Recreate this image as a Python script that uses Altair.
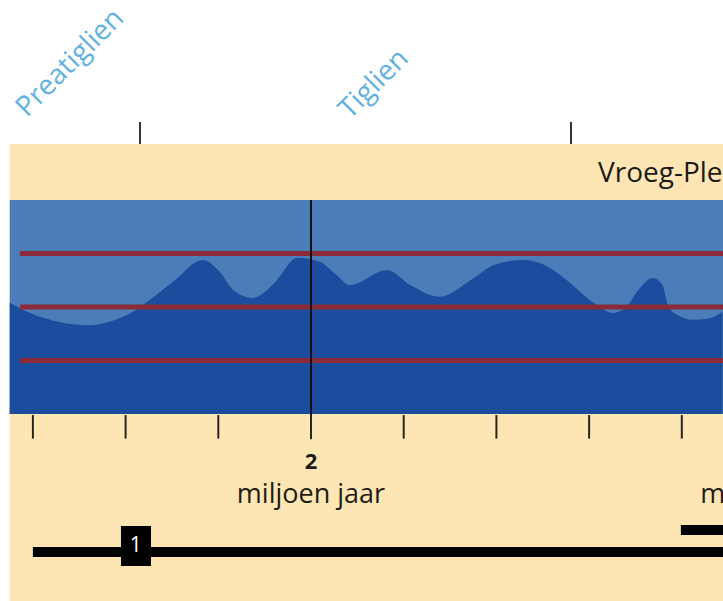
import altair as alt
import pandas as pd

# ---- data (x = age in million years, y = climate index; band spans 0..4) ----
curve_age = [2.325, 2.303, 2.271, 2.238, 2.211, 2.192, 2.174, 2.147, 2.117, 2.098,
             2.084, 2.063, 2.050, 2.037, 2.015, 1.990, 1.974, 1.958, 1.918, 1.893,
             1.861, 1.828, 1.802, 1.771, 1.742, 1.724, 1.696, 1.674, 1.661, 1.645,
             1.631, 1.621, 1.615, 1.605, 1.588, 1.570, 1.556]
curve_val = [2.08, 1.89, 1.72, 1.66, 1.76, 1.91, 2.13, 2.50, 2.88, 2.65,
             2.32, 2.17, 2.28, 2.50, 2.92, 2.84, 2.62, 2.41, 2.69, 2.41,
             2.19, 2.50, 2.79, 2.88, 2.73, 2.50, 2.09, 1.89, 1.98, 2.36,
             2.54, 2.41, 2.04, 1.85, 1.76, 1.79, 1.91]

ref_levels = [1, 2, 3]
tick_ages = [2.3, 2.2, 2.1, 2.0, 1.9, 1.8, 1.7, 1.6]
stage_bounds = [2.1845, 1.7195]
stage_names = ["Preatiglien", "Tiglien"]
stage_label_age = [2.3064, 1.9579]
stage_label_y = [5.533, 5.495]
axis_labels = ["2"]
unit_label = "miljoen jaar"
unit_label_ages = [2.0, 1.5]
period_name = "Vroeg-Pleistoceen"
period_label_age = 1.6904
marker_label = "1"

# ---- scales ----
X0, X1 = 2.33549, 1.55556
Y0, Y1 = -3.4953, 7.7383
band_lo, band_hi = 0.0, 4.0
left_age = 2.325

xs = alt.Scale(domain=[X0, X1], nice=False, zero=False)
ys = alt.Scale(domain=[Y0, Y1], nice=False, zero=False)

BEIGE = "#fde6b3"
LIGHT = "#4b7db8"
DARK = "#1b4c9d"
RED = "#8c2a38"
LBLUE = "#62b2df"
INK = "#231c16"
FONT = "Open Sans"

def X(f="x"):
    return alt.X(f"{f}:Q", scale=xs, axis=None)

def Y(f="y"):
    return alt.Y(f"{f}:Q", scale=ys, axis=None)

bg_df = pd.DataFrame({"x": [left_age], "x2": [X1], "y": [Y0], "y2": [5.047]})
beige = alt.Chart(bg_df).mark_rect(color=BEIGE).encode(x=X(), x2="x2:Q", y=Y(), y2="y2:Q")

band_df = pd.DataFrame({"x": [left_age], "x2": [X1], "y": [band_lo], "y2": [band_hi]})
band = alt.Chart(band_df).mark_rect(color=LIGHT).encode(x=X(), x2="x2:Q", y=Y(), y2="y2:Q")

curve_df = pd.DataFrame({"x": curve_age, "y": curve_val})
area = alt.Chart(curve_df).mark_area(color=DARK, interpolate="monotone").encode(
    x=X(), y=Y(), y2=alt.datum(band_lo))

red_df = pd.DataFrame({"x": [2.314] * 3, "x2": [X1] * 3, "y": ref_levels})
reds = alt.Chart(red_df).mark_rule(color=RED, strokeWidth=5).encode(
    x=X(), x2="x2:Q", y=Y())

vline_df = pd.DataFrame({"x": [2.0], "y": [band_hi], "y2": [-0.47]})
vline = alt.Chart(vline_df).mark_rule(color="#0d0d14", strokeWidth=2).encode(
    x=X(), y=Y(), y2="y2:Q")

ticks_df = pd.DataFrame({"x": tick_ages, "y": [-0.02] * len(tick_ages), "y2": [-0.46] * len(tick_ages)})
ticks = alt.Chart(ticks_df).mark_rule(color="#2a2420", strokeWidth=2).encode(
    x=X(), y=Y(), y2="y2:Q")

stage_df = pd.DataFrame({"x": stage_bounds, "y": [5.458, 5.458], "y2": [5.047, 5.047]})
stage_ticks = alt.Chart(stage_df).mark_rule(color="#333333", strokeWidth=2).encode(
    x=X(), y=Y(), y2="y2:Q")

stage_lbl_df = pd.DataFrame({"x": stage_label_age, "y": stage_label_y, "t": stage_names})
stage_lbls = alt.Chart(stage_lbl_df).mark_text(
    color=LBLUE, font=FONT, fontSize=28, angle=315, align="left", baseline="alphabetic"
).encode(x=X(), y=Y(), text="t:N")

num_df = pd.DataFrame({"x": [2.0], "y": [-0.897], "t": axis_labels})
nums = alt.Chart(num_df).mark_text(
    color=INK, font=FONT, fontSize=22, fontWeight="bold", baseline="middle"
).encode(x=X(), y=Y(), text="t:N")

unit_df = pd.DataFrame({"x": unit_label_ages, "y": [-1.514, -1.514], "t": [unit_label] * 2})
units = alt.Chart(unit_df).mark_text(
    color=INK, font=FONT, fontSize=27, baseline="middle"
).encode(x=X(), y=Y(), text="t:N")

period_df = pd.DataFrame({"x": [period_label_age], "y": [4.336], "t": [period_name]})
period = alt.Chart(period_df).mark_text(
    color="#1e1a18", font=FONT, fontSize=28, align="left", baseline="alphabetic"
).encode(x=X(), y=Y(), text="t:N")

bar_df = pd.DataFrame({"x": [2.3, 1.601], "x2": [X1, X1], "y": [-2.579, -2.168]})
bars = alt.Chart(bar_df).mark_rule(color="#000000", strokeWidth=10).encode(
    x=X(), x2="x2:Q", y=Y())

box_df = pd.DataFrame({"x": [2.205], "x2": [2.1726], "y": [-2.093], "y2": [-2.841]})
box = alt.Chart(box_df).mark_rect(color="#000000").encode(
    x=X(), x2="x2:Q", y=Y(), y2="y2:Q")

boxlbl_df = pd.DataFrame({"x": [2.189], "y": [-2.467], "t": [marker_label]})
boxlbl = alt.Chart(boxlbl_df).mark_text(
    color="white", font=FONT, fontSize=21, baseline="middle"
).encode(x=X(), y=Y(), text="t:N")

chart = alt.layer(
    beige, band, area, reds, vline, ticks, stage_ticks, stage_lbls,
    nums, units, period, bars, box, boxlbl
).properties(
    width=723, height=601,
    autosize=alt.AutoSizeParams(type="none"),
    padding=0,
    background="white",
).configure_view(stroke=None)

chart.save("out.html", embed_options={"renderer": "svg", "actions": False})
